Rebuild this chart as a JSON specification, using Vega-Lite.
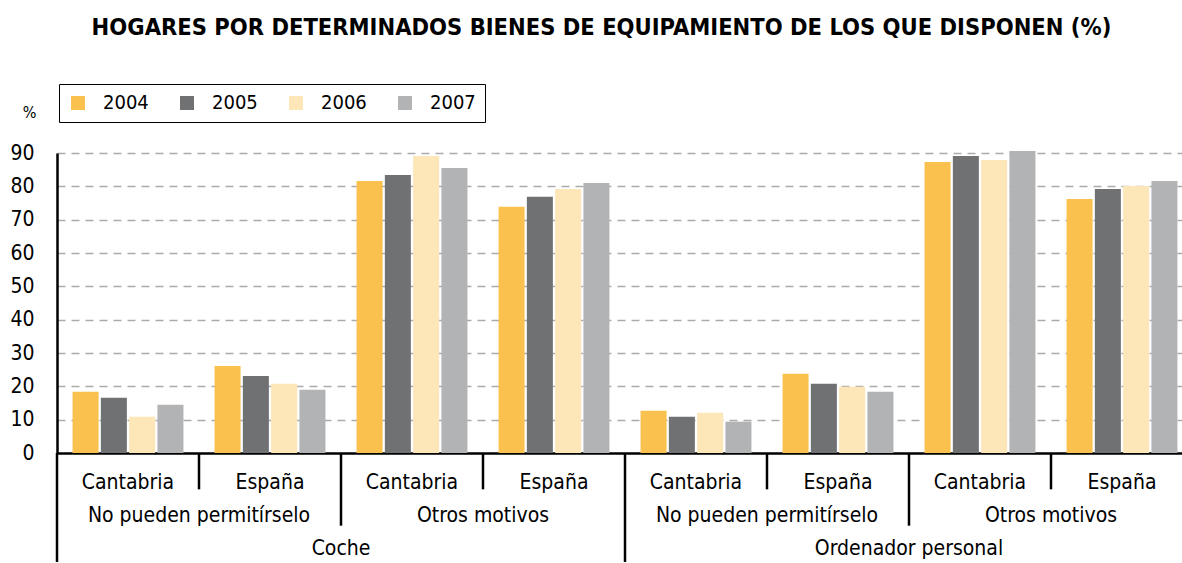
{
  "$schema": "https://vega.github.io/schema/vega-lite/v6.json",
  "padding": {"top": 15, "left": 9, "right": 0, "bottom": 0},
  "config": {
    "font": "DejaVu Sans Condensed, DejaVu Sans",
    "view": {"stroke": null},
    "concat": {"spacing": 0}
  },
  "title": {
    "text": "HOGARES POR DETERMINADOS BIENES DE EQUIPAMIENTO DE LOS QUE DISPONEN (%)",
    "fontSize": 23.5,
    "fontWeight": "bold",
    "color": "#000000",
    "anchor": "middle",
    "dx": 5,
    "offset": 44.5
  },
  "bounds": "flush",
  "vconcat": [
    {
      "width": 1126,
      "height": 300,
      "data": {"values": [
        {"g": "g1", "bien": "Coche", "motivo": "No pueden permitírselo", "region": "Cantabria", "anio": "2004", "valor": 18.4},
        {"g": "g1", "bien": "Coche", "motivo": "No pueden permitírselo", "region": "Cantabria", "anio": "2005", "valor": 16.6},
        {"g": "g1", "bien": "Coche", "motivo": "No pueden permitírselo", "region": "Cantabria", "anio": "2006", "valor": 10.9},
        {"g": "g1", "bien": "Coche", "motivo": "No pueden permitírselo", "region": "Cantabria", "anio": "2007", "valor": 14.5},
        {"g": "g2", "bien": "Coche", "motivo": "No pueden permitírselo", "region": "España", "anio": "2004", "valor": 26.1},
        {"g": "g2", "bien": "Coche", "motivo": "No pueden permitírselo", "region": "España", "anio": "2005", "valor": 23.1},
        {"g": "g2", "bien": "Coche", "motivo": "No pueden permitírselo", "region": "España", "anio": "2006", "valor": 20.8},
        {"g": "g2", "bien": "Coche", "motivo": "No pueden permitírselo", "region": "España", "anio": "2007", "valor": 19.0},
        {"g": "g3", "bien": "Coche", "motivo": "Otros motivos", "region": "Cantabria", "anio": "2004", "valor": 81.6},
        {"g": "g3", "bien": "Coche", "motivo": "Otros motivos", "region": "Cantabria", "anio": "2005", "valor": 83.4},
        {"g": "g3", "bien": "Coche", "motivo": "Otros motivos", "region": "Cantabria", "anio": "2006", "valor": 89.1},
        {"g": "g3", "bien": "Coche", "motivo": "Otros motivos", "region": "Cantabria", "anio": "2007", "valor": 85.5},
        {"g": "g4", "bien": "Coche", "motivo": "Otros motivos", "region": "España", "anio": "2004", "valor": 73.9},
        {"g": "g4", "bien": "Coche", "motivo": "Otros motivos", "region": "España", "anio": "2005", "valor": 76.9},
        {"g": "g4", "bien": "Coche", "motivo": "Otros motivos", "region": "España", "anio": "2006", "valor": 79.2},
        {"g": "g4", "bien": "Coche", "motivo": "Otros motivos", "region": "España", "anio": "2007", "valor": 81.0},
        {"g": "g5", "bien": "Ordenador personal", "motivo": "No pueden permitírselo", "region": "Cantabria", "anio": "2004", "valor": 12.7},
        {"g": "g5", "bien": "Ordenador personal", "motivo": "No pueden permitírselo", "region": "Cantabria", "anio": "2005", "valor": 10.9},
        {"g": "g5", "bien": "Ordenador personal", "motivo": "No pueden permitírselo", "region": "Cantabria", "anio": "2006", "valor": 12.1},
        {"g": "g5", "bien": "Ordenador personal", "motivo": "No pueden permitírselo", "region": "Cantabria", "anio": "2007", "valor": 9.4},
        {"g": "g6", "bien": "Ordenador personal", "motivo": "No pueden permitírselo", "region": "España", "anio": "2004", "valor": 23.8},
        {"g": "g6", "bien": "Ordenador personal", "motivo": "No pueden permitírselo", "region": "España", "anio": "2005", "valor": 20.8},
        {"g": "g6", "bien": "Ordenador personal", "motivo": "No pueden permitírselo", "region": "España", "anio": "2006", "valor": 19.9},
        {"g": "g6", "bien": "Ordenador personal", "motivo": "No pueden permitírselo", "region": "España", "anio": "2007", "valor": 18.4},
        {"g": "g7", "bien": "Ordenador personal", "motivo": "Otros motivos", "region": "Cantabria", "anio": "2004", "valor": 87.3},
        {"g": "g7", "bien": "Ordenador personal", "motivo": "Otros motivos", "region": "Cantabria", "anio": "2005", "valor": 89.1},
        {"g": "g7", "bien": "Ordenador personal", "motivo": "Otros motivos", "region": "Cantabria", "anio": "2006", "valor": 87.9},
        {"g": "g7", "bien": "Ordenador personal", "motivo": "Otros motivos", "region": "Cantabria", "anio": "2007", "valor": 90.6},
        {"g": "g8", "bien": "Ordenador personal", "motivo": "Otros motivos", "region": "España", "anio": "2004", "valor": 76.2},
        {"g": "g8", "bien": "Ordenador personal", "motivo": "Otros motivos", "region": "España", "anio": "2005", "valor": 79.2},
        {"g": "g8", "bien": "Ordenador personal", "motivo": "Otros motivos", "region": "España", "anio": "2006", "valor": 80.1},
        {"g": "g8", "bien": "Ordenador personal", "motivo": "Otros motivos", "region": "España", "anio": "2007", "valor": 81.6}
      ]},
      "mark": {"type": "bar"},
      "encoding": {
        "x": {
          "field": "g", "type": "nominal", "axis": null,
          "scale": {"domain": ["g1","g2","g3","g4","g5","g6","g7","g8"], "range": [0, 1136], "paddingInner": 0, "paddingOuter": 0}
        },
        "xOffset": {
          "field": "anio", "type": "nominal",
          "scale": {"domain": ["2004","2005","2006","2007"], "paddingInner": 0.08, "paddingOuter": 0.55}
        },
        "y": {
          "field": "valor", "type": "quantitative",
          "scale": {"domain": [0, 90], "nice": false},
          "axis": {
            "values": [0,10,20,30,40,50,60,70,80,90],
            "title": "%",
            "titleAngle": 0,
            "titleAlign": "center",
            "titleBaseline": "middle",
            "titleX": -28,
            "titleY": -41,
            "titleFontSize": 16,
            "titleFontWeight": "normal",
            "titleColor": "#000000",
            "labelFontSize": 21,
            "labelColor": "#000000",
            "labelPadding": 23,
            "ticks": false,
            "domain": true,
            "domainColor": "#000000",
            "domainWidth": 2.5,
            "grid": true,
            "gridColor": {"condition": {"test": "datum.value === 0", "value": "#000000"}, "value": "#ABABAB"},
            "gridDash": {"condition": {"test": "datum.value === 0", "value": []}, "value": [8, 6]},
            "gridWidth": {"condition": {"test": "datum.value === 0", "value": 2.5}, "value": 1.5}
          }
        },
        "color": {
          "field": "anio", "type": "nominal",
          "scale": {"domain": ["2004","2005","2006","2007"], "range": ["#FAC14F","#707173","#FDE6B8","#B2B3B5"]},
          "legend": {
            "title": null,
            "orient": "none",
            "legendX": 2,
            "legendY": -69,
            "direction": "horizontal",
            "columns": 4,
            "symbolType": "square",
            "symbolSize": 196,
            "symbolStrokeWidth": 0,
            "labelFontSize": 20,
            "labelColor": "#000000",
            "labelOffset": 15,
            "columnPadding": 28,
            "padding": 9,
            "strokeColor": "#000000",
            "fillColor": "#FFFFFF"
          }
        }
      }
    },
    {
      "width": 1126,
      "height": 109,
      "resolve": {"scale": {"x": "independent"}},
      "layer": [
        {
          "data": {"values": [
            {"borde": "b2", "desde": 0, "nivel": 1}, {"borde": "b4", "desde": 0, "nivel": 1}, {"borde": "b6", "desde": 0, "nivel": 1}, {"borde": "b8", "desde": 0, "nivel": 1},
            {"borde": "b3", "desde": 0, "nivel": 2}, {"borde": "b7", "desde": 0, "nivel": 2},
            {"borde": "b1", "desde": 0, "nivel": 3}, {"borde": "b5", "desde": 0, "nivel": 3}
          ]},
          "mark": {"type": "rule", "color": "#000000", "strokeWidth": 2.5},
          "encoding": {
            "x": {"field": "borde", "type": "nominal", "axis": null,
                  "scale": {"type": "point", "domain": ["b1","b2","b3","b4","b5","b6","b7","b8","b9"], "range": [0, 1136], "padding": 0}},
            "y": {"field": "desde", "type": "quantitative", "axis": null, "scale": {"domain": [0, 3], "reverse": true, "nice": false}},
            "y2": {"field": "nivel"}
          }
        },
        {
          "data": {"values": [
            {"g": "g1", "nivel": 1, "texto": "Cantabria"}, {"g": "g2", "nivel": 1, "texto": "España"},
            {"g": "g3", "nivel": 1, "texto": "Cantabria"}, {"g": "g4", "nivel": 1, "texto": "España"},
            {"g": "g5", "nivel": 1, "texto": "Cantabria"}, {"g": "g6", "nivel": 1, "texto": "España"},
            {"g": "g7", "nivel": 1, "texto": "Cantabria"}, {"g": "g8", "nivel": 1, "texto": "España"}
          ]},
          "mark": {"type": "text", "fontSize": 21, "color": "#000000", "baseline": "alphabetic", "align": "center", "dy": 0},
          "encoding": {
            "x": {"field": "g", "type": "nominal", "axis": null,
                  "scale": {"domain": ["g1","g2","g3","g4","g5","g6","g7","g8"], "range": [0, 1136], "paddingInner": 0, "paddingOuter": 0}},
            "y": {"field": "nivel", "type": "quantitative", "axis": null},
            "text": {"field": "texto", "type": "nominal"}
          }
        },
        {
          "data": {"values": [
            {"par": "p1", "nivel": 2, "texto": "No pueden permitírselo"}, {"par": "p2", "nivel": 2, "texto": "Otros motivos"},
            {"par": "p3", "nivel": 2, "texto": "No pueden permitírselo"}, {"par": "p4", "nivel": 2, "texto": "Otros motivos"}
          ]},
          "mark": {"type": "text", "fontSize": 21, "color": "#000000", "baseline": "alphabetic", "align": "center", "dy": -4},
          "encoding": {
            "x": {"field": "par", "type": "nominal", "axis": null,
                  "scale": {"domain": ["p1","p2","p3","p4"], "range": [0, 1136], "paddingInner": 0, "paddingOuter": 0}},
            "y": {"field": "nivel", "type": "quantitative", "axis": null},
            "text": {"field": "texto", "type": "nominal"}
          }
        },
        {
          "data": {"values": [
            {"bien": "Coche", "nivel": 3, "texto": "Coche"}, {"bien": "Ordenador personal", "nivel": 3, "texto": "Ordenador personal"}
          ]},
          "mark": {"type": "text", "fontSize": 21, "color": "#000000", "baseline": "alphabetic", "align": "center", "dy": -7},
          "encoding": {
            "x": {"field": "bien", "type": "nominal", "axis": null,
                  "scale": {"domain": ["Coche","Ordenador personal"], "range": [0, 1136], "paddingInner": 0, "paddingOuter": 0}},
            "y": {"field": "nivel", "type": "quantitative", "axis": null},
            "text": {"field": "texto", "type": "nominal"}
          }
        }
      ]
    }
  ]
}
